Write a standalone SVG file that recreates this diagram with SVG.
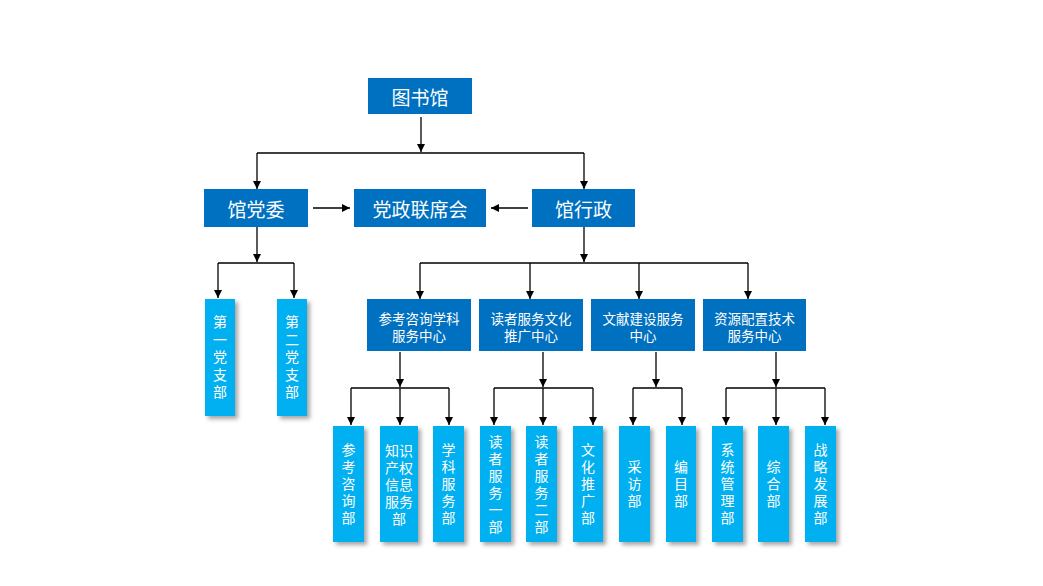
<svg xmlns="http://www.w3.org/2000/svg" width="1043" height="586" viewBox="0 0 1043 586">
<style>
.d{fill:#0070C0}
.l{fill:#00B0F0}
.t{fill:#fff;font-family:"Noto Sans CJK SC","Microsoft YaHei",sans-serif;text-anchor:middle;dominant-baseline:central}
.big{font-size:19px}
.mid{font-size:13.5px}
.sm{font-size:14px}
.v{writing-mode:vertical-rl;letter-spacing:3px}
.v2{writing-mode:vertical-rl;letter-spacing:3.5px}
.c{fill:none;stroke:#000;stroke-width:1.3}
.a{marker-end:url(#ah)}
</style>
<defs>
<marker id="ah" markerUnits="userSpaceOnUse" markerWidth="9" markerHeight="9" refX="8" refY="4" orient="auto">
<path d="M0,0 L8,4 L0,8 z" fill="#000"/>
</marker>
<filter id="sh" x="-30%" y="-10%" width="170%" height="130%">
<feDropShadow dx="3" dy="3" stdDeviation="2" flood-color="#000" flood-opacity="0.35"/>
</filter>
</defs>
<rect width="1043" height="586" fill="#fff"/>
<g id="connectors">
<path class="c a" d="M421 117 V152"/>
<path class="c" d="M257 153 H584"/>
<path class="c a" d="M257 153 V189"/>
<path class="c a" d="M584 153 V189"/>
<path class="c a" d="M313 208 H350"/>
<path class="c a" d="M528 208 H491"/>
<path class="c a" d="M257 227 V262"/>
<path class="c" d="M218 263 H294"/>
<path class="c a" d="M218 263 V298"/>
<path class="c a" d="M294 263 V298"/>
<path class="c a" d="M584 227 V262"/>
<path class="c" d="M420 263 H748"/>
<path class="c a" d="M420 263 V299"/>
<path class="c a" d="M530 263 V299"/>
<path class="c a" d="M639 263 V299"/>
<path class="c a" d="M748 263 V299"/>
<path class="c a" d="M400 352 V387"/>
<path class="c" d="M351 388 H449"/>
<path class="c a" d="M351 388 V425"/>
<path class="c a" d="M400 388 V425"/>
<path class="c a" d="M449 388 V425"/>
<path class="c a" d="M543 352 V387"/>
<path class="c" d="M494 388 H593"/>
<path class="c a" d="M494 388 V425"/>
<path class="c a" d="M543 388 V425"/>
<path class="c a" d="M593 388 V425"/>
<path class="c a" d="M656 352 V387"/>
<path class="c" d="M633 388 H682"/>
<path class="c a" d="M633 388 V425"/>
<path class="c a" d="M682 388 V425"/>
<path class="c a" d="M776 352 V387"/>
<path class="c" d="M726 388 H825"/>
<path class="c a" d="M726 388 V425"/>
<path class="c a" d="M776 388 V425"/>
<path class="c a" d="M825 388 V425"/>
</g>
<g id="n-library"><rect class="d" x="368" y="78" width="104" height="36"/><text class="t big" x="420" y="96">图书馆</text></g>
<g id="n-party"><rect class="d" x="204" y="189" width="104" height="38"/><text class="t big" x="256" y="208">馆党委</text></g>
<g id="n-joint"><rect class="d" x="354" y="189" width="132" height="38"/><text class="t big" x="420" y="208">党政联席会</text></g>
<g id="n-admin"><rect class="d" x="532" y="189" width="103" height="38"/><text class="t big" x="583.5" y="208">馆行政</text></g>

<g id="n-b1"><rect class="l" filter="url(#sh)" x="205" y="299" width="30" height="117"/><text class="t sm v2" x="220" y="358.5">第一党支部</text></g>
<g id="n-b2"><rect class="l" filter="url(#sh)" x="277" y="299" width="30" height="117"/><text class="t sm v2" x="292" y="358.5">第二党支部</text></g>

<g id="n-c1"><rect class="d" x="367" y="299" width="104" height="52"/><text class="t mid"><tspan x="419" y="317.5">参考咨询学科</tspan><tspan x="419" y="334.5">服务中心</tspan></text></g>
<g id="n-c2"><rect class="d" x="479" y="299" width="104" height="52"/><text class="t mid"><tspan x="531" y="317.5">读者服务文化</tspan><tspan x="531" y="334.5">推广中心</tspan></text></g>
<g id="n-c3"><rect class="d" x="591" y="299" width="104" height="52"/><text class="t mid"><tspan x="643" y="317.5">文献建设服务</tspan><tspan x="643" y="334.5">中心</tspan></text></g>
<g id="n-c4"><rect class="d" x="703" y="299" width="103" height="52"/><text class="t mid"><tspan x="754.5" y="317.5">资源配置技术</tspan><tspan x="754.5" y="334.5">服务中心</tspan></text></g>

<g id="n-d1"><rect class="l" filter="url(#sh)" x="333" y="426" width="31" height="116"/><text class="t sm v" x="348.5" y="485.5">参考咨询部</text></g>
<g id="n-d2"><rect class="l" filter="url(#sh)" x="380" y="426" width="38" height="116"/><text class="t sm"><tspan x="399" y="450">知识</tspan><tspan x="399" y="467">产权</tspan><tspan x="399" y="484">信息</tspan><tspan x="399" y="501">服务</tspan><tspan x="399" y="518">部</tspan></text></g>
<g id="n-d3"><rect class="l" filter="url(#sh)" x="433" y="426" width="31" height="116"/><text class="t sm v" x="448.5" y="485.5">学科服务部</text></g>
<g id="n-d4"><rect class="l" filter="url(#sh)" x="480" y="426" width="31" height="116"/><text class="t sm v" x="495.5" y="485.5">读者服务一部</text></g>
<g id="n-d5"><rect class="l" filter="url(#sh)" x="526" y="426" width="31" height="116"/><text class="t sm v" x="541.5" y="485.5">读者服务二部</text></g>
<g id="n-d6"><rect class="l" filter="url(#sh)" x="573" y="426" width="30" height="116"/><text class="t sm v" x="588" y="485.5">文化推广部</text></g>
<g id="n-d7"><rect class="l" filter="url(#sh)" x="619" y="426" width="31" height="116"/><text class="t sm v" x="634.5" y="485.5">采访部</text></g>
<g id="n-d8"><rect class="l" filter="url(#sh)" x="666" y="426" width="30" height="116"/><text class="t sm v" x="681" y="485.5">编目部</text></g>
<g id="n-d9"><rect class="l" filter="url(#sh)" x="712" y="426" width="31" height="116"/><text class="t sm v" x="727.5" y="485.5">系统管理部</text></g>
<g id="n-d10"><rect class="l" filter="url(#sh)" x="758" y="426" width="31" height="116"/><text class="t sm v" x="773.5" y="485.5">综合部</text></g>
<g id="n-d11"><rect class="l" filter="url(#sh)" x="805" y="426" width="31" height="116"/><text class="t sm v" x="820.5" y="485.5">战略发展部</text></g>
</svg>
